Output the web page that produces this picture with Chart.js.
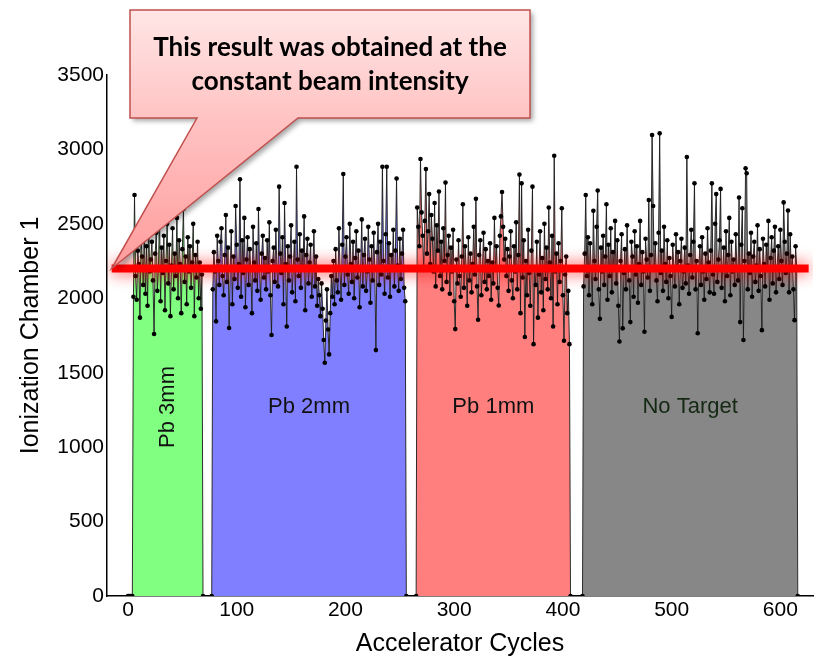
<!DOCTYPE html>
<html>
<head>
<meta charset="utf-8">
<script src="https://cdn.jsdelivr.net/npm/chart.js@4.4.1/dist/chart.umd.min.js"></script>
<style>
  html, body { margin: 0; padding: 0; background: #ffffff; }
  canvas { display: block; }
</style>
</head>
<body>
<canvas id="chart" width="819" height="659"></canvas>
<script>
// Axis ticks
const xTicks = [0, 100, 200, 300, 400, 500, 600];
const yTicks = [0, 500, 1000, 1500, 2000, 2500, 3000, 3500];

// Targets and the first accelerator cycle of each run
const regionNames = ['Pb 3mm', 'Pb 2mm', 'Pb 1mm', 'No Target'];
const regionStarts = [5, 78, 266, 419];

// Ionization chamber readings, one per accelerator cycle
const pb3mm = [
  2010, 2694, 2150, 1990, 2320, 2230, 1870, 2410, 2280, 2090,
  2460, 2030, 2350, 1950, 2520, 2180, 2260, 2380, 2120, 1760,
  2300, 2440, 2050, 2210, 2560, 1980, 2340, 2170, 2420, 1920,
  2250, 2500, 2100, 2360, 1880, 2220, 2470, 2060, 2300, 2150,
  2540, 2000, 2390, 2230, 1900, 2330, 2600, 2110, 2280, 1960,
  2410, 2180, 2350, 2070, 2240, 2500, 1880, 2290, 2140, 2380,
  2000, 2240, 1930, 2160
];
const pb2mm = [
  2060, 2310, 2180, 1845, 2420, 2250, 2090, 2380, 2470, 2150,
  2020, 2290, 2560, 2110, 2340, 1800, 2200, 2450, 1960, 2280,
  2130, 2620, 2360, 2070, 2230, 2800, 2010, 2390, 2170, 2540,
  1940, 2260, 2410, 2090, 2330, 2190, 1900, 2480, 2240, 2120,
  2370, 2050, 2600, 2210, 1990, 2300, 2420, 2140, 2270, 2060,
  2390, 2180, 2510, 2020, 1753, 2250, 2340, 2110, 2460, 2200,
  2080, 2750, 2300, 2170, 2410, 1960, 2640, 2230, 1810, 2350,
  2120, 2280, 2490, 2040, 2200, 2380, 1980, 2884, 2260, 2150,
  2430, 2070, 2320, 2210, 2550, 1920, 2290, 2400, 2100, 2240,
  2360, 2010, 2190, 2450, 2080, 2280, 1950, 2130, 2020, 1880,
  2100, 1930, 1720, 1567, 1850, 2060, 1790, 1623, 1900, 2150,
  2010, 2250, 1960, 2330, 2120, 2040, 2470, 2200, 1990, 2360,
  2835, 2090, 2280, 2410, 2160, 2030, 2500, 2230, 2110, 2380,
  2000, 2270, 2450, 2140, 2320, 1940, 2210, 2530, 2080, 2290,
  2400, 2050, 2180, 2480, 2260, 1970, 2350, 2120, 2440, 2200,
  1652, 2310, 2500, 2090, 2380, 2160, 2884, 2250, 2030, 2430,
  2884, 2140, 2370, 2010, 2290, 2190, 2460, 2080, 2320, 2805,
  2220, 2050, 2400, 2130, 2300, 2460, 2070, 1980
];
const pb1mm = [
  2610, 2480, 2350, 2936, 2577, 2420, 2190, 2520, 2868, 2300,
  2450, 2700, 2230, 2560, 2400, 2180, 2640, 2080, 2490, 2320,
  2717, 2150, 2380, 2060, 2470, 2250, 2777, 2110, 2290, 2420,
  2030, 2340, 2180, 2460, 1980, 1793, 2260, 2100, 2390, 2150,
  2010, 2280, 2632, 2070, 2350, 2200, 1950, 2410, 2120, 2300,
  2040, 2230, 2480, 2160, 2668, 2080, 1856, 2290, 2390, 2020,
  2200, 2440, 2110, 2330, 2060, 2250, 2150, 2370, 1990, 2240,
  2100, 2540, 2200, 2350, 2070, 1952, 2420, 2550, 2714, 2480,
  2260, 2400, 2150, 2330, 2050, 2280, 2450, 2120, 2000, 2350,
  2180, 2510, 2060, 2290, 2831, 1900, 2772, 2140, 2390, 1740,
  2250, 2020, 2460, 2170, 1950, 2320, 2750, 1692, 2210, 2090,
  2380, 1870, 2160, 2450, 2040, 2270, 1920, 2500, 2130, 2340,
  2060, 2610, 2240, 2000, 2420, 1810, 2958, 2180, 2300, 1960,
  2370, 2110, 2250, 2605, 2020, 1715, 2160, 2280, 1900, 2050,
  1692
];
const noTarget = [
  2080, 2300, 2694, 2150, 2410, 2020, 2370, 2200, 1960, 2588,
  2250, 2130, 2480, 2724, 2060, 1862, 2340, 2180, 2420, 2090,
  2280, 2632, 1990, 2360, 2150, 2470, 2040, 2310, 2200, 2520,
  2100, 2390, 1950, 1710, 2250, 2430, 1798, 2170, 2330, 2060,
  2490, 2210, 2120, 1840, 2380, 2280, 2010, 2450, 2160, 2350,
  1970, 2230, 2520, 2090, 2310, 2180, 1775, 2400, 2260, 2140,
  2660, 2050, 2290, 3097, 2620, 2200, 2370, 2120, 1980, 2440,
  3108, 2170, 2320, 2050, 2480, 2230, 2110, 2390, 2000, 2270,
  2150, 1875, 2360, 2210, 2080, 2430, 2190, 2310, 1960, 2250,
  2400, 2070, 2180, 2340, 2100, 2949, 2220, 2030, 2290, 2460,
  2140, 2380, 2772, 2060, 2250, 1765, 2200, 2350, 2090, 2410,
  2180, 1990, 2300, 2130, 2470, 2240, 2040, 2320, 2772, 2160,
  2030, 2500, 2700, 2110, 2260, 2390, 2735, 2070, 2200, 2340,
  1980, 2450, 2150, 2290, 2540, 2020, 2380, 2180, 2260, 2090,
  2430, 2210, 2120, 2677, 1840, 2360, 2605, 1720, 2250, 2873,
  2840, 2060, 2300, 2170, 2440, 2010, 2280, 2380, 2110, 2220,
  2490, 2050, 2330, 2150, 1786, 2400, 2230, 2080, 2360, 2190,
  2520, 1990, 2270, 2410, 2100, 2320, 2480, 2040, 2210, 2350,
  2130, 2460, 2250, 2090, 2644, 2380, 2170, 2300, 2590, 2040,
  2430, 2190, 2280, 2060, 1853, 2350, 2210
];
// Cycles with no beam before the first run
const idleCycles = [0, 1, 2, 3];

// Constant beam intensity level and the cycle span it is drawn over
const beamLevel = 2200;
const beamSpan = [-15, 626];

const calloutLines = ['This result was obtained at the', 'constant beam intensity'];

// ---- styling ----
const regionFills = ['#80ff80', '#7f7fff', '#ff7f7f', '#878787'];
const tickFont = { family: '"Liberation Sans", Arial, sans-serif', size: 21 };
const titleFont = { family: '"Liberation Sans", Arial, sans-serif', size: 25, lineHeight: 1.2 };

const regionSeries = [pb3mm, pb2mm, pb1mm, noTarget];

function runPoints(start, values) {
  const pts = [{ x: start - 1, y: 0 }];
  values.forEach((v, i) => pts.push({ x: start + i, y: v }));
  pts.push({ x: start + values.length, y: 0 });
  return pts;
}

const markStyle = {
  borderColor: 'rgba(25,25,25,0.9)',
  borderWidth: 1,
  pointRadius: 2.3,
  pointBackgroundColor: '#000000',
  pointBorderWidth: 0,
  pointHoverRadius: 2.3,
  tension: 0
};

const datasets = [
  {
    label: 'beam level',
    data: beamSpan.map(x => ({ x: x, y: beamLevel })),
    borderColor: '#ff0000',
    borderWidth: 8,
    pointRadius: 0,
    fill: false,
    order: -1,
    glow: true
  }
];
regionSeries.forEach((vals, r) => {
  datasets.push(Object.assign({
    label: regionNames[r],
    data: runPoints(regionStarts[r], vals),
    backgroundColor: regionFills[r],
    fill: 'origin'
  }, markStyle));
});
datasets.push(Object.assign({
  label: 'idle',
  data: idleCycles.map(x => ({ x: x, y: 0 })),
  fill: false
}, markStyle));

const glowPlugin = {
  id: 'glow',
  beforeDatasetDraw(chart, args) {
    const ds = chart.data.datasets[args.index];
    if (ds.glow) {
      const ctx = chart.ctx;
      ctx.save();
      ctx.shadowColor = 'rgba(255,0,0,0.85)';
      ctx.shadowBlur = 16;
      ctx.shadowOffsetX = 0;
      ctx.shadowOffsetY = 0;
    }
  },
  afterDatasetDraw(chart, args) {
    const ds = chart.data.datasets[args.index];
    if (ds.glow) chart.ctx.restore();
  }
};

const regionLabelPlugin = {
  id: 'regionLabels',
  afterDatasetsDraw(chart) {
    const { ctx, scales: { x, y } } = chart;
    ctx.save();
    ctx.font = '22px "Liberation Sans", Arial, sans-serif';
    ctx.textAlign = 'center';
    ctx.textBaseline = 'middle';
    ctx.fillStyle = '#111111';
    regionNames.forEach((name, r) => {
      const mid = regionStarts[r] + (regionSeries[r].length - 1) / 2;
      const px = x.getPixelForValue(mid);
      const py = y.getPixelForValue(1270);
      if (r === 0) {
        ctx.save();
        ctx.translate(px, py);
        ctx.rotate(-Math.PI / 2);
        ctx.fillText(name, 0, 0);
        ctx.restore();
      } else {
        ctx.fillStyle = r === 3 ? '#142814' : '#111111';
        ctx.fillText(name, px, py);
      }
    });
    ctx.restore();
  }
};

const calloutPlugin = {
  id: 'callout',
  afterDraw(chart) {
    const { ctx, scales: { x, y } } = chart;
    const tipX = x.getPixelForValue(beamSpan[0]);
    const tipY = y.getPixelForValue(beamLevel);
    const L = 130, T = 10, R = 530, B = 118;
    ctx.save();
    ctx.beginPath();
    ctx.moveTo(L, T);
    ctx.lineTo(R, T);
    ctx.lineTo(R, B);
    ctx.lineTo(298, B);
    ctx.lineTo(tipX, tipY);
    ctx.lineTo(197, B);
    ctx.lineTo(L, B);
    ctx.closePath();
    const g = ctx.createLinearGradient(0, T, 0, tipY);
    g.addColorStop(0, '#ffe6e6');
    g.addColorStop(0.42, '#ffc3c3');
    g.addColorStop(1, '#ff9c9c');
    ctx.shadowColor = 'rgba(0,0,0,0.35)';
    ctx.shadowBlur = 5;
    ctx.shadowOffsetX = 3;
    ctx.shadowOffsetY = 3;
    ctx.fillStyle = g;
    ctx.fill();
    ctx.shadowColor = 'transparent';
    ctx.lineWidth = 1.5;
    ctx.strokeStyle = '#c0504d';
    ctx.stroke();

    ctx.fillStyle = '#000000';
    ctx.textAlign = 'center';
    ctx.textBaseline = 'middle';
    ctx.font = 'bold 26px Lato, "Open Sans", sans-serif';
    ctx.fillText(calloutLines[0], (L + R) / 2, 48);
    ctx.fillText(calloutLines[1], (L + R) / 2, 82);
    ctx.restore();
  }
};

new Chart(document.getElementById('chart'), {
  type: 'line',
  data: { datasets: datasets },
  plugins: [glowPlugin, regionLabelPlugin, calloutPlugin],
  options: {
    responsive: false,
    animation: false,
    layout: { padding: { top: 75, right: 6, left: 0, bottom: 0 } },
    plugins: { legend: { display: false }, tooltip: { enabled: false } },
    scales: {
      x: {
        type: 'linear',
        min: -19.3,
        max: 630,
        grid: { display: false, drawTicks: false },
        border: { display: true, color: '#000000', width: 1.5 },
        ticks: { font: tickFont, color: '#000000', padding: 2, callback: v => String(v) },
        afterBuildTicks: s => { s.ticks = xTicks.map(v => ({ value: v })); },
        afterFit: s => { s.height = 63; },
        title: { display: true, text: 'Accelerator Cycles', font: titleFont, color: '#000000', padding: { top: 0, bottom: 0 } }
      },
      y: {
        type: 'linear',
        min: 0,
        max: 3500,
        grid: { display: false, drawTicks: false },
        border: { display: true, color: '#000000', width: 1.5 },
        ticks: { font: tickFont, color: '#000000', padding: 3, callback: v => String(v) },
        afterBuildTicks: s => { s.ticks = yTicks.map(v => ({ value: v })); },
        afterFit: s => { s.width = 107; },
        title: { display: true, text: 'Ionization Chamber 1', font: titleFont, color: '#000000', padding: { top: 16, bottom: 0 } }
      }
    }
  }
});
</script>
</body>
</html>
